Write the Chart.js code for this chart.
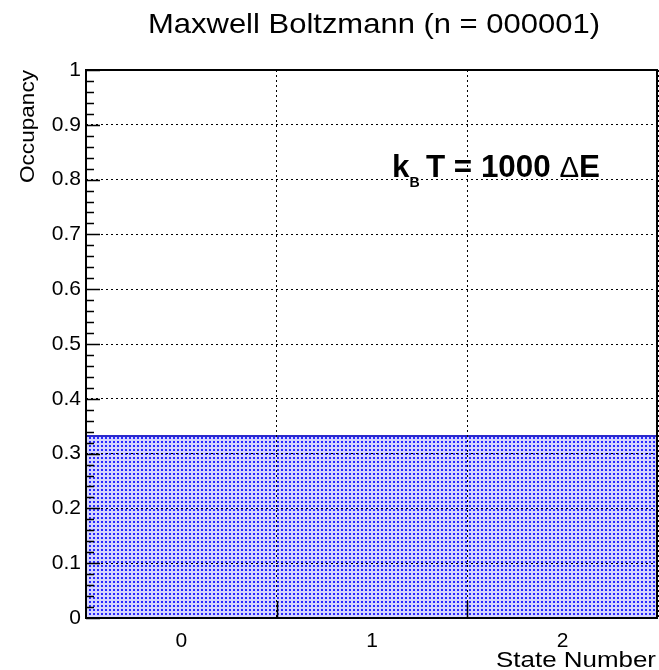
<!DOCTYPE html>
<html>
<head>
<meta charset="utf-8">
<script src="https://cdn.jsdelivr.net/npm/chart.js@4"></script>
<style>
  html, body { margin: 0; padding: 0; background: #fff; }
  #wrap { width: 659px; height: 670px; }
</style>
</head>
<body>
<div id="wrap"><canvas id="chart"></canvas></div>
<script>
'use strict'

// data
let stateLabels = ['0', '1', '2'];
let occupancy = [0.3333, 0.3333, 0.3333];
let yMin = 0;
let yMax = 1;
let yStep = 0.1;
let yMinorStep = 0.02;
let titleText = 'Maxwell Boltzmann (n = 000001)';
let yTitle = 'Occupancy';
let xTitle = 'State Number';

let fontName = '"Liberation Sans", Arial, Helvetica, sans-serif';

// dotted blue fill like the ROOT hatch style
function makePattern() {
    let c = document.createElement('canvas');
    c.width = 4;
    c.height = 4;
    let g = c.getContext('2d');
    g.fillStyle = '#d4d4ff';
    g.fillRect(0, 0, 4, 4);
    g.fillStyle = '#2828ff';
    g.fillRect(1, 1, 2, 2);
    return g.createPattern(c, 'repeat');
}

// draw text squeezed/stretched to a target width
function fitText(ctx, text, font, x, y, width, align) {
    ctx.save();
    ctx.font = font;
    let w = ctx.measureText(text).width;
    let sx = width / w;
    ctx.translate(x, y);
    ctx.scale(sx, 1);
    ctx.textAlign = align;
    ctx.textBaseline = 'alphabetic';
    ctx.fillText(text, 0, 0);
    ctx.restore();
}

let framePlugin = {
    id: 'frame',
    afterDraw(chart) {
        let ctx = chart.ctx;
        let a = chart.chartArea;
        let ys = chart.scales.y;
        let xs = chart.scales.x;
        ctx.save();
        ctx.fillStyle = '#000';
        ctx.strokeStyle = '#000';

        // frame
        ctx.lineWidth = 2;
        ctx.strokeRect(a.left, a.top, a.right - a.left - 1, a.bottom - a.top);

        // y ticks, inward
        ctx.lineWidth = 1.5;
        ctx.beginPath();
        for (let v = yMin; v <= yMax + 1e-9; v += yMinorStep) {
            let py = Math.round(ys.getPixelForValue(v)) + 0.5;
            let major = Math.abs(v / yStep - Math.round(v / yStep)) < 1e-6;
            ctx.moveTo(a.left, py);
            ctx.lineTo(a.left + (major ? 14 : 8), py);
        }
        // x ticks at the bin edges
        for (let i = 0; i < stateLabels.length - 1; i++) {
            let px = Math.round((xs.getPixelForValue(i) + xs.getPixelForValue(i + 1)) / 2) + 0.5;
            ctx.moveTo(px, a.bottom);
            ctx.lineTo(px, a.bottom - 17);
        }
        ctx.stroke();

        // title
        fitText(ctx, titleText, '28px ' + fontName, 374, 33, 452, 'center');

        // axis titles
        fitText(ctx, xTitle, '22px ' + fontName, 656, 667, 160, 'right');
        ctx.save();
        ctx.translate(34, 70);
        ctx.rotate(-Math.PI / 2);
        fitText(ctx, yTitle, '21px ' + fontName, 0, 0, 113, 'right');
        ctx.restore();

        // k_B T = 1000 dE label
        let pieces = [
            { t: 'k', f: 'bold 31px ' + fontName, dy: 0 },
            { t: 'B', f: 'bold 14px ' + fontName, dy: 10 },
            { t: '\u2009T = 1000 ', f: 'bold 31px ' + fontName, dy: 0 },
            { t: '\u0394', f: '29px ' + fontName, dy: 0 },
            { t: 'E', f: 'bold 31px ' + fontName, dy: 0 }
        ];
        let total = 0;
        for (let p of pieces) {
            ctx.font = p.f;
            p.w = ctx.measureText(p.t).width;
            total += p.w;
        }
        ctx.save();
        ctx.translate(392, 177);
        ctx.scale(208 / total, 1);
        ctx.textAlign = 'left';
        ctx.textBaseline = 'alphabetic';
        let cx = 0;
        for (let p of pieces) {
            ctx.font = p.f;
            ctx.fillText(p.t, cx, p.dy);
            cx += p.w;
        }
        ctx.restore();

        ctx.restore();
    }
};

let canvasElem = document.getElementById('chart');

let chartObj = {
    type: 'bar',
    data: {
        labels: stateLabels,
        datasets: [{
            label: 'occupancy',
            data: occupancy,
            backgroundColor: makePattern(),
            borderColor: '#2a2ac8',
            borderWidth: { top: 2, left: 0, right: 0, bottom: 0 },
            borderSkipped: false,
            barPercentage: 1,
            categoryPercentage: 1
        }]
    },
    options: {
        responsive: true,
        maintainAspectRatio: false,
        animation: false,
        layout: { padding: { top: 70, right: 1, left: 0, bottom: 0 } },
        plugins: {
            legend: { display: false },
            title: { display: false },
            tooltip: { enabled: false }
        },
        scales: {
            x: {
                offset: true,
                grid: {
                    offset: true,
                    z: 1,
                    color: '#000',
                    lineWidth: 1,
                    drawTicks: false
                },
                border: { display: false, dash: [2, 3] },
                ticks: {
                    color: '#000',
                    padding: 11,
                    font: { family: fontName, size: 21 }
                },
                afterFit(scale) { scale.height = 52; }
            },
            y: {
                min: yMin,
                max: yMax,
                grid: {
                    z: 1,
                    color: '#000',
                    lineWidth: 1,
                    drawTicks: false
                },
                border: { display: false, dash: [2, 3] },
                ticks: {
                    stepSize: yStep,
                    color: '#000',
                    padding: 5,
                    font: { family: fontName, size: 21 },
                    callback: function (v) { return String(+v.toFixed(1)); }
                },
                afterFit(scale) { scale.width = 86; }
            }
        }
    },
    plugins: [framePlugin]
};

new Chart(canvasElem, chartObj);
</script>
</body>
</html>
